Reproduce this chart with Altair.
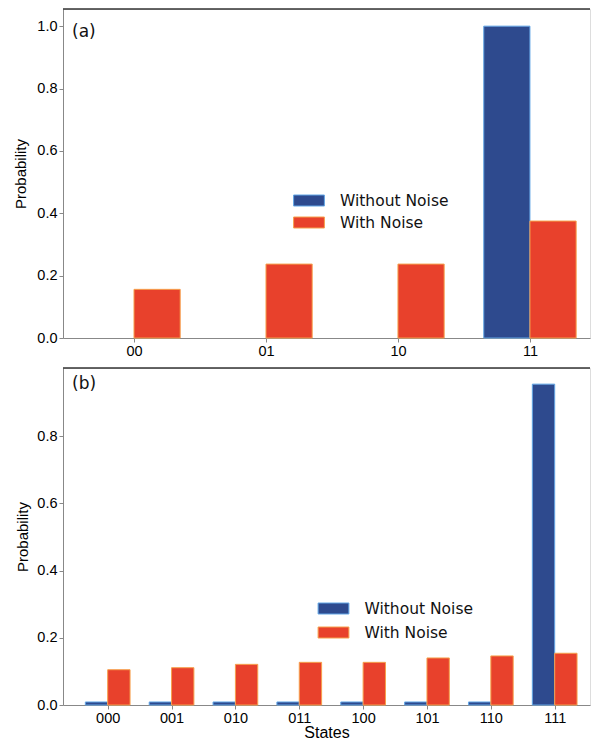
import json
import altair as alt
import pandas as pd

# ---------------- data ----------------
states_a = ["00", "01", "10", "11"]
without_noise_a = [0.0, 0.0, 0.0, 1.0]
with_noise_a = [0.156, 0.237, 0.237, 0.375]

states_b = ["000", "001", "010", "011", "100", "101", "110", "111"]
without_noise_b = [0.009, 0.009, 0.009, 0.009, 0.009, 0.009, 0.009, 0.955]
with_noise_b = [0.105, 0.111, 0.121, 0.127, 0.127, 0.140, 0.146, 0.154]

series_names = ["Without Noise", "With Noise"]
panel_tags = ["(a)", "(b)"]

# ---------------- style ----------------
FONT = "DejaVu Sans"
fill_colors = ["#2E4A8E", "#E8412C"]
edge_colors = ["#62A6E6", "#F6A04C"]
AXIS_COLOR = "#333333"
BAR_W = 0.35
TICK_FS = 14.5


def make_df(states, wo, w):
    rows = []
    for i, s in enumerate(states):
        rows.append(dict(state=s, series=series_names[0], value=wo[i], base=0.0,
                         x0=i - BAR_W, x1=i))
        rows.append(dict(state=s, series=series_names[1], value=w[i], base=0.0,
                         x0=i, x1=i + BAR_W))
    return pd.DataFrame(rows)


def panel(states, wo, w, tag, xdomain, ymax, yticks, width, height,
          legend_x, legend_y, row_pad, x_title, tag_y, y_title_pad):
    df = make_df(states, wo, w)
    label_expr = json.dumps(states) + "[datum.value]"
    leg = dict(title=None, orient="none", legendX=legend_x, legendY=legend_y,
               symbolType="M-1.4,-0.5H1.4V0.5H-1.4Z", symbolSize=484,
               symbolStrokeWidth=1, labelFontSize=15.5, labelFont=FONT,
               labelOffset=19.5, rowPadding=row_pad, labelColor="#111111",
               symbolOpacity=1)
    x_axis = dict(values=list(range(len(states))), labelExpr=label_expr,
                  grid=False, labelFontSize=TICK_FS, tickSize=4,
                  labelPadding=2)
    if x_title:
        x_axis.update(title=x_title, titleFontSize=16, titlePadding=0,
                      titleFontWeight="normal")
    else:
        x_axis.update(title=None)
    bars = alt.Chart(df).transform_filter("datum.value > 0").mark_bar(strokeWidth=1).encode(
        x=alt.X("x0:Q", scale=alt.Scale(domain=xdomain, nice=False, zero=False),
                axis=alt.Axis(**x_axis)),
        x2="x1:Q",
        y=alt.Y("value:Q", scale=alt.Scale(domain=[0, ymax], nice=False, zero=True),
                axis=alt.Axis(values=yticks, format=".1f", title="Probability",
                              grid=False, labelFontSize=TICK_FS, titleFontSize=15,
                              titleFontWeight="normal",
                              tickSize=4, labelPadding=2, titlePadding=y_title_pad)),
        y2="base:Q",
        color=alt.Color("series:N", scale=alt.Scale(domain=series_names, range=fill_colors),
                        legend=alt.Legend(**leg)),
        stroke=alt.Stroke("series:N", scale=alt.Scale(domain=series_names, range=edge_colors),
                          legend=alt.Legend(**leg)),
    )
    top_border = alt.Chart(alt.Data(values=[{"t": tag}])).mark_rule(
        color=AXIS_COLOR, strokeWidth=1.5).encode(
        x=alt.value(0), x2=alt.value(width), y=alt.value(0))
    tag_text = alt.Chart(alt.Data(values=[{"t": tag}])).mark_text(
        align="left", baseline="middle", fontSize=17, font=FONT, color="#111111").encode(
        x=alt.value(9), y=alt.value(tag_y), text="t:N")
    return alt.layer(bars, top_border, tag_text).properties(width=width, height=height)


panel_a = panel(states_a, without_noise_a, with_noise_a, panel_tags[0],
                xdomain=[-0.538, 3.455], ymax=1.055,
                yticks=[0.0, 0.2, 0.4, 0.6, 0.8, 1.0], width=527, height=329,
                legend_x=234.5, legend_y=180, row_pad=2,
                x_title=None, tag_y=23, y_title_pad=8)
panel_b = panel(states_b, without_noise_b, with_noise_b, panel_tags[1],
                xdomain=[-0.70, 7.553], ymax=1.003,
                yticks=[0.0, 0.2, 0.4, 0.6, 0.8], width=527, height=337,
                legend_x=259, legend_y=229, row_pad=4,
                x_title="States", tag_y=16, y_title_pad=6)

chart = alt.vconcat(panel_a, panel_b, spacing=8).resolve_scale(
    x="independent", y="independent", color="independent", stroke="independent"
).properties(
    padding={"left": 5, "top": -1, "right": 0, "bottom": 0}
).configure_view(stroke=None).configure_axis(
    labelFont=FONT, titleFont=FONT, domainColor=AXIS_COLOR, tickColor=AXIS_COLOR,
    domainWidth=1.5, tickWidth=1.2, labelColor="#111111", titleColor="#111111",
    titleFontWeight="normal"
).configure(background="white")

chart.save("out.html", embed_options={"renderer": "svg", "actions": False})
